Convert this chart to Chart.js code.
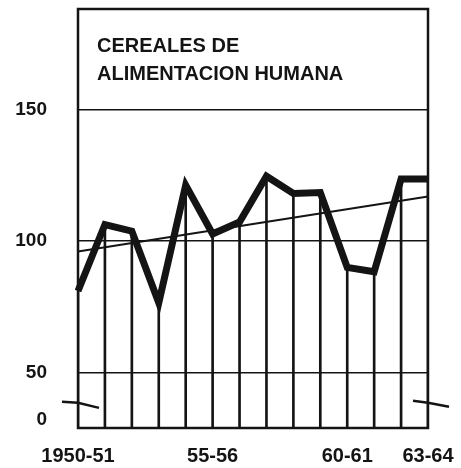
<!DOCTYPE html>
<html>
<head>
<meta charset="utf-8">
<script src="https://cdn.jsdelivr.net/npm/chart.js@4/dist/chart.umd.min.js"></script>
<style>
html,body{margin:0;padding:0;background:#fff}
#wrap{width:461px;height:468px}
</style>
</head>
<body>
<div id="wrap"><canvas id="grafico" width="461" height="468"></canvas></div>
<script>
// campañas 1950-51 .. 1963-64
let temporadas=['1950-51','1951-52','1952-53','1953-54','1954-55','1955-56','1956-57','1957-58','1958-59','1959-60','1960-61','1961-62','1962-63','1963-64']
let etiquetasX=['1950-51','','','','','55-56','','','','','60-61','','','63-64']
let indices=[81,106.3,103.8,76.5,121.3,102.7,107.3,124.7,118.1,118.5,90,88.3,123.6,123.6]
let tendencia=[96,null,null,null,null,null,null,null,null,null,null,null,null,117]
let marcasY=[50,100,150]
let titulo=['CEREALES DE','ALIMENTACION HUMANA']

// eje cortado: el "0" se coloca justo por encima del borde inferior
let posCero=32
let ejeMin=28.8
let ejeMax=188.4

let negro='#141414'

let marco={
id:'marco',
afterDatasetsDraw(chart){
let{ctx,chartArea:a,scales}=chart
ctx.save()
ctx.strokeStyle=negro
ctx.lineWidth=2.5
ctx.strokeRect(a.left,a.top,a.right-a.left,a.bottom-a.top)

// marcas de corte del eje
let yc=scales.y.getPixelForValue(38)
ctx.lineWidth=2.5
ctx.beginPath()
ctx.moveTo(a.left-16,yc-2)
ctx.lineTo(a.left,yc-1)
ctx.lineTo(a.left+21,yc+4)
ctx.moveTo(a.right-15,yc-3)
ctx.lineTo(a.right,yc-1)
ctx.lineTo(a.right+21,yc+3)
ctx.stroke()

ctx.fillStyle=negro
ctx.font='bold 20px "Liberation Sans"'
ctx.textBaseline='alphabetic'
ctx.fillText(titulo[0],a.left+19,52)
ctx.fillText(titulo[1],a.left+19,80)
ctx.restore()
}
}

new Chart(document.getElementById('grafico'),{
data:{
labels:temporadas,
datasets:[{
type:'line',
data:indices,
borderColor:negro,
borderWidth:7,
borderJoinStyle:'miter',
pointRadius:0,
tension:0,
order:1
},{
type:'line',
data:tendencia,
spanGaps:true,
borderColor:negro,
borderWidth:2,
pointRadius:0,
order:2
},{
type:'bar',
data:indices,
backgroundColor:negro,
barThickness:2,
order:3
}]
},
options:{
responsive:false,
animation:false,
layout:{padding:{top:9,right:33,left:0,bottom:0}},
plugins:{legend:{display:false},tooltip:{enabled:false}},
scales:{
x:{
offset:false,
grid:{display:true,color:'rgba(0,0,0,0)',drawTicks:true,tickLength:18,tickColor:'rgba(0,0,0,0)'},
border:{display:false},
afterFit(s){s.height=40},
ticks:{
autoSkip:false,
maxRotation:0,
padding:0,
color:negro,
font:{family:'Liberation Sans',size:20,weight:'bold',lineHeight:1},
callback:(v,i)=>etiquetasX[i]
}
},
y:{
min:ejeMin,
max:ejeMax,
afterBuildTicks(s){
s.ticks=[posCero].concat(marcasY).map(v=>({value:v}))
},
afterFit(s){s.width=78},
grid:{
drawTicks:true,
tickLength:31,
tickColor:'rgba(0,0,0,0)',
lineWidth:1.6,
color:c=>c.tick&&c.tick.value===posCero?'rgba(0,0,0,0)':negro
},
border:{display:false},
ticks:{
padding:0,
color:negro,
font:{family:'Liberation Sans',size:19,weight:'bold',lineHeight:0.9},
callback:v=>v===posCero?'0':String(v)
}
}
}
},
plugins:[marco]
})
</script>
</body>
</html>
